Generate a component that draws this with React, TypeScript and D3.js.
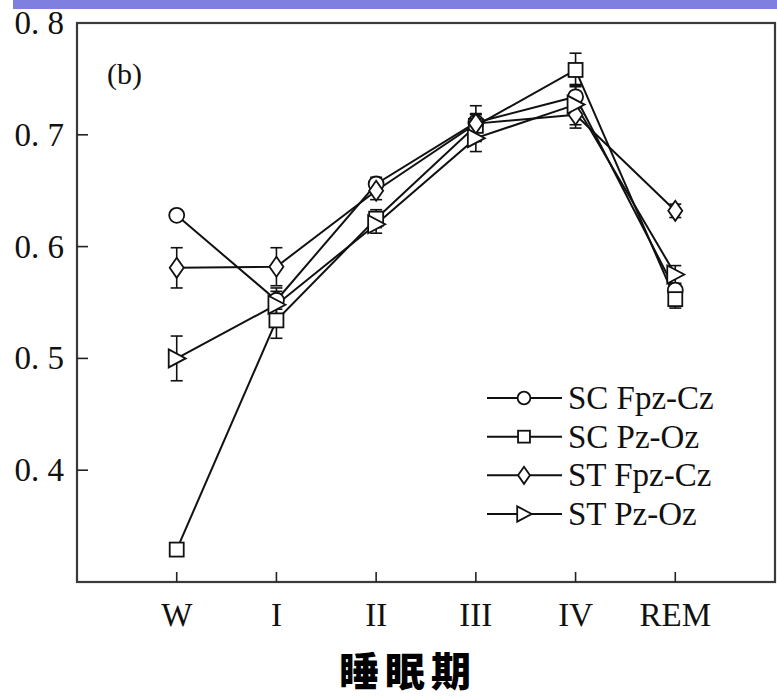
import React, { useEffect, useRef } from 'react';
import * as d3 from 'd3';

// sleep stages on x axis
const stages = ['W', 'I', 'II', 'III', 'IV', 'REM'];
const yTicks = [0.4, 0.5, 0.6, 0.7, 0.8];
const seriesNames = ['SC Fpz-Cz', 'SC Pz-Oz', 'ST Fpz-Cz', 'ST Pz-Oz'];
const seriesMarkers = ['circle', 'square', 'diamond', 'triangle'];

const scFpzCz = [0.628, 0.552, 0.656, 0.711, 0.734, 0.561];
const scPzOz = [0.329, 0.534, 0.625, 0.708, 0.758, 0.553];
const stFpzCz = [0.581, 0.582, 0.650, 0.710, 0.718, 0.632];
const stPzOz = [0.500, 0.548, 0.620, 0.697, 0.727, 0.575];

const scFpzCzErr = [0.004, 0.008, 0.006, 0.008, 0.01, 0.006];
const scPzOzErr = [0.005, 0.016, 0.008, 0.01, 0.015, 0.008];
const stFpzCzErr = [0.018, 0.017, 0.008, 0.016, 0.012, 0.006];
const stPzOzErr = [0.02, 0.015, 0.008, 0.012, 0.018, 0.008];

const allValues = [scFpzCz, scPzOz, stFpzCz, stPzOz];
const allErrors = [scFpzCzErr, scPzOzErr, stFpzCzErr, stPzOzErr];

const App = () => {
  const svgRef = useRef<SVGSVGElement>(null);

  useEffect(() => {
    const svg = d3.select(svgRef.current);
    svg.selectAll('*').remove();

    const W = 777;
    const H = 700;
    const left = 77, right = 775, top = 23, bottom = 582;

    svg.attr('width', W).attr('height', H);

    // blue strip at the top
    svg.append('rect')
      .attr('x', 13).attr('y', 0)
      .attr('width', W - 13).attr('height', 9)
      .attr('fill', '#7f7fdf');

    const x = d3.scalePoint<string>()
      .domain(stages)
      .range([left, right])
      .padding(1);

    const y = d3.scaleLinear()
      .domain([0.3, 0.8])
      .range([bottom, top]);

    const serif = '"Liberation Serif", "Times New Roman", serif';

    // frame
    svg.append('rect')
      .attr('x', left).attr('y', top)
      .attr('width', right - left).attr('height', bottom - top)
      .attr('fill', 'none')
      .attr('stroke', '#3a3a3a')
      .attr('stroke-width', 2.2);

    // y ticks (inward)
    const yAxis = svg.append('g');
    yAxis.selectAll('line')
      .data(yTicks.filter(d => d < 0.8))
      .enter().append('line')
      .attr('x1', left).attr('x2', left + 11)
      .attr('y1', d => y(d)).attr('y2', d => y(d))
      .attr('stroke', '#222').attr('stroke-width', 1.6);
    yAxis.selectAll('text')
      .data(yTicks)
      .enter().append('text')
      .attr('x', 64)
      .attr('y', d => y(d) + 11)
      .attr('text-anchor', 'end')
      .attr('font-family', serif)
      .attr('font-size', 33)
      .attr('fill', '#111')
      .text(d => d.toFixed(1).replace('.', '. '));

    // x ticks (inward)
    const xAxis = svg.append('g');
    xAxis.selectAll('line')
      .data(stages)
      .enter().append('line')
      .attr('x1', d => x(d)!).attr('x2', d => x(d)!)
      .attr('y1', bottom).attr('y2', bottom - 10)
      .attr('stroke', '#222').attr('stroke-width', 1.6);
    xAxis.selectAll('text')
      .data(stages)
      .enter().append('text')
      .attr('x', d => x(d)!)
      .attr('y', 626)
      .attr('text-anchor', 'middle')
      .attr('font-family', serif)
      .attr('font-size', 33)
      .attr('fill', '#111')
      .text(d => d);

    // panel label
    svg.append('text')
      .attr('x', 107).attr('y', 84)
      .attr('font-family', serif)
      .attr('font-size', 30)
      .attr('fill', '#111')
      .text('(b)');

    // x axis title
    svg.append('text')
      .attr('x', 408).attr('y', 686)
      .attr('text-anchor', 'middle')
      .attr('font-family', '"Noto Sans CJK SC", sans-serif')
      .attr('font-weight', 900)
      .attr('font-size', 40)
      .attr('letter-spacing', 6)
      .attr('fill', '#000')
      .text('睡眠期');

    const drawMarker = (g: any, kind: string, cx: number, cy: number, k = 1) => {
      if (kind === 'circle') {
        g.append('circle')
          .attr('cx', cx).attr('cy', cy).attr('r', 7.5 * k)
          .attr('fill', 'white').attr('stroke', '#111').attr('stroke-width', 1.8);
      } else if (kind === 'square') {
        g.append('rect')
          .attr('x', cx - 7 * k).attr('y', cy - 7 * k).attr('width', 14 * k).attr('height', 14 * k)
          .attr('fill', 'white').attr('stroke', '#111').attr('stroke-width', 1.8);
      } else if (kind === 'diamond') {
        g.append('path')
          .attr('d', `M${cx},${cy - 10 * k}L${cx + 7 * k},${cy}L${cx},${cy + 10 * k}L${cx - 7 * k},${cy}Z`)
          .attr('fill', 'white').attr('stroke', '#111').attr('stroke-width', 1.8);
      } else {
        g.append('path')
          .attr('d', `M${cx - 8 * k},${cy - 9 * k}L${cx + 9 * k},${cy}L${cx - 8 * k},${cy + 9 * k}Z`)
          .attr('fill', 'white').attr('stroke', '#111').attr('stroke-width', 1.8);
      }
    };

    const line = d3.line<number>()
      .x((_, i) => x(stages[i])!)
      .y(d => y(d));

    const plot = svg.append('g');

    // lines
    allValues.forEach(vals => {
      plot.append('path')
        .datum(vals)
        .attr('fill', 'none')
        .attr('stroke', '#111')
        .attr('stroke-width', 2)
        .attr('d', line);
    });

    // error bars
    allValues.forEach((vals, s) => {
      vals.forEach((v, i) => {
        const e = allErrors[s][i];
        const cx = x(stages[i])!;
        const g = plot.append('g').attr('stroke', '#111').attr('stroke-width', 1.6);
        g.append('line').attr('x1', cx).attr('x2', cx).attr('y1', y(v - e)).attr('y2', y(v + e));
        g.append('line').attr('x1', cx - 6).attr('x2', cx + 6).attr('y1', y(v - e)).attr('y2', y(v - e));
        g.append('line').attr('x1', cx - 6).attr('x2', cx + 6).attr('y1', y(v + e)).attr('y2', y(v + e));
      });
    });

    // markers
    allValues.forEach((vals, s) => {
      vals.forEach((v, i) => {
        drawMarker(plot, seriesMarkers[s], x(stages[i])!, y(v));
      });
    });

    // legend
    const legend = svg.append('g');
    const rowY = d3.scaleLinear().domain([0, 3]).range([398, 514]);
    seriesNames.forEach((name, i) => {
      const ly = rowY(i);
      legend.append('line')
        .attr('x1', 487).attr('x2', 562)
        .attr('y1', ly).attr('y2', ly)
        .attr('stroke', '#111').attr('stroke-width', 2);
      drawMarker(legend, seriesMarkers[i], 524, ly, 0.85);
      legend.append('text')
        .attr('x', 568).attr('y', ly + 11)
        .attr('font-family', serif)
        .attr('font-size', 33)
        .attr('fill', '#111')
        .text(name);
    });
  }, []);

  return (
    <div style={{ position: 'fixed', left: 0, top: 0, background: 'white' }}>
      <svg ref={svgRef} style={{ display: 'block' }}></svg>
    </div>
  );
};

export default App;
